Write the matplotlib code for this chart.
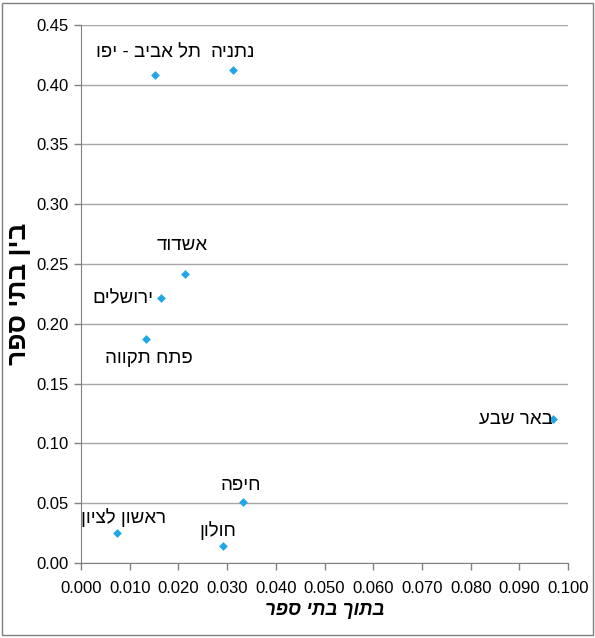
import matplotlib
matplotlib.use("Agg")
import matplotlib.pyplot as plt
from matplotlib.patches import Rectangle
import numpy as np

# data
cities = ["תל אביב - יפו", "נתניה", "אשדוד", "ירושלים", "פתח תקווה",
          "באר שבע", "חיפה", "ראשון לציון", "חולון"]
within_schools = [0.0152, 0.0312, 0.0214, 0.0164, 0.0133,
                  0.0969, 0.0333, 0.0074, 0.0292]
between_schools = [0.408, 0.412, 0.242, 0.222, 0.187,
                   0.120, 0.051, 0.025, 0.014]

# label offsets in points (dx, dy), like Excel data labels
offsets = [(-5, 16), (0, 13), (-2, 20), (-27, -1), (2, -14),
           (-27, 0), (-2, 12), (5, 11), (-4, 11)]

x_ticks = np.arange(0, 0.1001, 0.01)
y_ticks = np.arange(0, 0.4501, 0.05)


def rtl(s):
    # matplotlib has no bidi support, so flip Hebrew to visual order
    return s[::-1]


plt.rcParams['font.family'] = ['Liberation Sans Narrow', 'Liberation Sans', 'DejaVu Sans']

fig = plt.figure(figsize=(5.95, 6.38), dpi=100)
ax = fig.add_axes([0.136, 0.1176, 0.819, 0.8434])

ax.scatter(within_schools, between_schools, marker='D', s=20,
           color='#1EA6E8', zorder=3, linewidths=0)

for name, x, y, (dx, dy) in zip(cities, within_schools, between_schools, offsets):
    ax.annotate(rtl(name), (x, y), xytext=(dx, dy), textcoords='offset points',
                ha='center', va='center', fontsize=13.5)

ax.set_xlim(0, 0.1)
ax.set_ylim(0, 0.45)
ax.set_xticks(x_ticks)
ax.set_yticks(y_ticks)
ax.set_xticklabels([f"{v:.3f}" for v in x_ticks], fontsize=12)
ax.set_yticklabels([f"{v:.2f}" for v in y_ticks], fontsize=12)
ax.tick_params(axis='both', direction='out', length=5, color='#808080', width=1)
ax.tick_params(axis='x', pad=8)

ax.grid(axis='y', color='#a6a6a6', linewidth=1)
ax.set_axisbelow(True)
for side in ['top', 'right']:
    ax.spines[side].set_visible(False)
for side in ['left', 'bottom']:
    ax.spines[side].set_color('#808080')

ax.set_xlabel(rtl("בתוך בתי ספר"), fontsize=13.5, fontweight='bold',
              style='italic', labelpad=4)
ax.set_ylabel(rtl("בין בתי ספר"), fontsize=19, fontweight='bold', labelpad=4)

fig.patches.append(Rectangle((0.004, 0.004), 0.992, 0.992, transform=fig.transFigure,
                             fill=False, edgecolor='#808080', linewidth=1))

fig.savefig("out.png", dpi=100)
